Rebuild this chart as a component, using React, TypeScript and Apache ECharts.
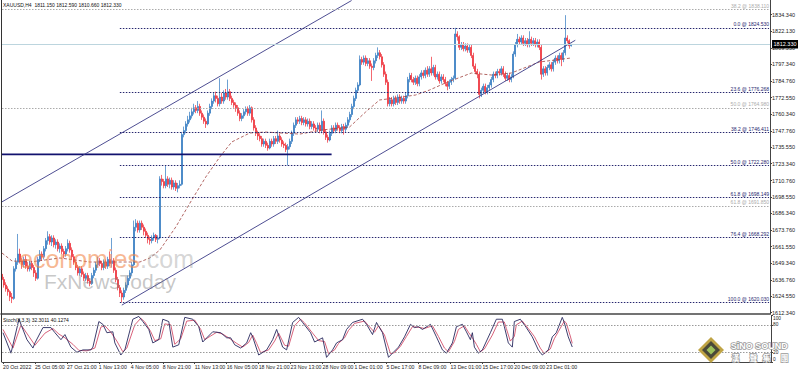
import React, { useEffect, useRef } from 'react';
import * as echarts from 'echarts';

const symbolName = 'XAUUSD,H4';
// [open, close, low, high] per H4 bar
const bars: number[][] = [
  [1641,1637,1635,1643],[1637,1633,1631,1639],[1633,1630,1628,1635],[1630,1628,1625,1632],[1628,1624,1621,1629],
  [1624,1623,1619.5,1627],[1623,1645,1622,1647],[1645,1650,1643,1653],[1650,1656,1648,1671],[1656,1651,1649,1660],
  [1651,1648,1645,1653],[1648,1652,1646,1654],[1652,1647,1645,1655],[1647,1645,1643,1650],[1645,1649,1643,1651],
  [1649,1646,1644,1651],[1646,1642,1639,1648],[1642,1638,1636,1644],[1638,1652,1637,1654],[1652,1656,1650,1659],
  [1656,1654,1651,1658],[1654,1660,1652,1662],[1660,1666,1658,1668],[1666,1669,1663,1673],[1669,1665,1663,1671],
  [1665,1668,1662,1670],[1668,1663,1661,1670],[1663,1665,1660,1667],[1665,1660,1658,1667],[1660,1662,1657,1664],
  [1662,1658,1656,1664],[1658,1656,1653,1660],[1656,1660,1654,1662],[1660,1664,1658,1667],[1664,1659,1657,1666],
  [1659,1654,1652,1661],[1654,1650,1648,1656],[1650,1646,1644,1652],[1646,1642,1640,1648],[1642,1645,1640,1647],
  [1645,1641,1639,1647],[1641,1638,1636,1643],[1638,1640,1636,1642],[1640,1636,1634,1642],[1636,1634,1632,1638],
  [1634,1640,1633,1642],[1640,1644,1638,1646],[1644,1648,1642,1650],[1648,1651,1646,1654],[1651,1649,1647,1653],
  [1649,1646,1644,1651],[1646,1650,1644,1652],[1650,1647,1645,1652],[1647,1652,1645,1654],[1652,1649,1647,1658],
  [1649,1651,1646,1668],[1651,1644,1642,1653],[1644,1637,1635,1646],[1637,1631,1629,1639],[1631,1627,1624,1633],
  [1627,1624,1620.03,1629],[1624,1629,1622,1631],[1629,1633,1627,1635],[1633,1638,1631,1640],[1638,1642,1636,1644],
  [1642,1648,1640,1650],[1648,1676,1647,1681],[1676,1679,1673,1682],[1679,1674,1672,1681],[1674,1679,1672,1681],
  [1679,1676,1674,1681],[1676,1673,1670,1678],[1673,1670,1668,1675],[1670,1667,1664,1672],[1667,1666,1663,1669],
  [1666,1668,1664,1670],[1668,1670,1666,1672],[1670,1667,1665,1671],[1667,1668,1664,1670],[1668,1712,1667,1714],
  [1712,1710,1707,1715],[1710,1707,1705,1712],[1707,1712,1705,1722],[1712,1708,1706,1714],[1708,1711,1705,1713],
  [1711,1706,1704,1713],[1706,1709,1704,1711],[1709,1705,1703,1711],[1705,1707,1702,1709],[1707,1708,1705,1711],
  [1708,1745,1707,1747],[1745,1748,1743,1751],[1748,1753,1746,1755],[1753,1756,1751,1759],[1756,1759,1754,1762],
  [1759,1762,1757,1765],[1762,1765,1760,1768],[1765,1763,1761,1767],[1763,1766,1761,1770],[1766,1761,1759,1768],
  [1761,1758,1756,1763],[1758,1755,1753,1760],[1755,1753,1750,1757],[1753,1761,1752,1763],[1761,1766,1759,1768],
  [1766,1770,1764,1772],[1770,1774,1768,1776],[1774,1772,1769,1777],[1772,1768,1766,1774],[1768,1773,1766,1787],
  [1773,1770,1768,1776],[1770,1776,1768,1778],[1776,1773,1771,1779],[1773,1777,1771,1786],[1777,1772,1770,1779],
  [1772,1769,1767,1774],[1769,1767,1765,1771],[1767,1765,1762,1769],[1765,1761,1759,1767],[1761,1757,1755,1763],
  [1757,1759,1755,1761],[1759,1762,1757,1764],[1762,1764,1760,1766],[1764,1761,1759,1766],[1761,1765,1759,1767],
  [1765,1756,1754,1766],[1756,1750,1748,1758],[1750,1746,1744,1752],[1746,1744,1741,1748],[1744,1742,1740,1746],
  [1742,1738,1736,1744],[1738,1740,1736,1742],[1740,1737,1735,1742],[1737,1735,1733,1739],[1735,1740,1734,1742],
  [1740,1738,1736,1742],[1738,1742,1736,1744],[1742,1740,1738,1744],[1740,1744,1738,1748],[1744,1741,1739,1746],
  [1741,1738,1736,1743],[1738,1737,1735,1740],[1737,1734,1732,1739],[1734,1736,1722,1738],[1736,1740,1734,1742],
  [1740,1746,1738,1748],[1746,1752,1744,1754],[1752,1756,1750,1758],[1756,1755,1753,1758],[1755,1757,1753,1759],
  [1757,1754,1752,1759],[1754,1756,1752,1758],[1756,1753,1751,1758],[1753,1755,1751,1757],[1755,1751,1749,1757],
  [1751,1753,1749,1755],[1753,1750,1748,1755],[1750,1749,1747,1752],[1749,1752,1747,1754],[1752,1748,1746,1754],
  [1748,1755,1746,1763],[1755,1747,1745,1757],[1747,1743,1741,1749],[1743,1741,1739,1745],[1741,1746,1740,1748],
  [1746,1750,1744,1752],[1750,1748,1746,1752],[1748,1752,1746,1754],[1752,1750,1748,1754],[1750,1748,1746,1752],
  [1748,1751,1746,1753],[1751,1749,1745,1753],[1749,1752,1747,1754],[1752,1756,1750,1758],[1756,1760,1754,1762],
  [1760,1766,1758,1768],[1766,1772,1764,1774],[1772,1778,1770,1780],[1778,1782,1776,1784],[1782,1801,1781,1804],
  [1801,1799,1797,1803],[1799,1802,1797,1804],[1802,1798,1796,1804],[1798,1800,1796,1802],[1800,1796,1794,1802],
  [1796,1795,1785,1798],[1795,1800,1793,1802],[1800,1804,1798,1806],[1804,1806,1802,1810],[1806,1803,1801,1808],
  [1803,1797,1795,1805],[1797,1790,1788,1799],[1790,1784,1782,1792],[1784,1768,1766,1786],[1768,1771,1766,1773],
  [1771,1768,1766,1773],[1768,1772,1766,1774],[1772,1769,1767,1774],[1769,1773,1767,1775],[1773,1770,1768,1775],
  [1770,1772,1768,1774],[1772,1770,1768,1774],[1770,1774,1768,1776],[1774,1786,1772,1788],[1786,1789,1784,1791],
  [1789,1786,1784,1791],[1786,1784,1782,1788],[1784,1787,1782,1789],[1787,1783,1781,1789],[1783,1788,1781,1790],
  [1788,1791,1786,1793],[1791,1789,1787,1793],[1789,1793,1787,1795],[1793,1790,1788,1796],[1790,1794,1788,1796],
  [1794,1791,1789,1803],[1791,1795,1789,1797],[1795,1788,1786,1797],[1788,1790,1786,1792],[1790,1785,1783,1792],
  [1785,1788,1783,1790],[1788,1786,1784,1790],[1786,1783,1781,1788],[1783,1781,1778,1785],[1781,1784,1779,1786],
  [1784,1786,1782,1788],[1786,1787,1784,1789],[1787,1820,1786,1824.53],[1820,1818,1815,1822],[1818,1810,1808,1819],
  [1810,1812,1808,1814],[1812,1809,1807,1814],[1809,1811,1807,1813],[1811,1808,1806,1813],[1808,1810,1806,1812],
  [1810,1804,1802,1812],[1804,1796,1794,1806],[1796,1792,1790,1798],[1792,1790,1787,1794],[1790,1775,1772,1792],
  [1775,1778,1773,1780],[1778,1781,1776,1783],[1781,1777,1775,1783],[1777,1780,1775,1782],[1780,1782,1778,1784],
  [1782,1786,1780,1788],[1786,1790,1784,1792],[1790,1789,1787,1792],[1789,1792,1787,1794],[1792,1791,1789,1794],
  [1791,1794,1789,1796],[1794,1790,1788,1796],[1790,1787,1785,1792],[1787,1789,1785,1791],[1789,1786,1784,1791],
  [1786,1788,1784,1790],[1788,1805,1787,1807],[1805,1812,1803,1814],[1812,1816,1810,1820],[1816,1814,1812,1818],
  [1814,1817,1812,1819],[1817,1813,1811,1819],[1813,1815,1811,1817],[1815,1812,1810,1817],[1812,1816,1810,1822],
  [1816,1813,1811,1818],[1813,1815,1811,1817],[1815,1812,1810,1817],[1812,1814,1810,1816],[1814,1810,1808,1816],
  [1810,1790,1786,1812],[1790,1794,1788,1796],[1794,1791,1789,1796],[1791,1795,1789,1797],[1795,1797,1793,1799],
  [1797,1794,1792,1799],[1794,1799,1792,1801],[1799,1802,1797,1804],[1802,1800,1798,1804],[1800,1804,1798,1806],
  [1804,1801,1796,1806],[1801,1806,1799,1808],[1806,1817,1804,1834],[1817,1815,1813,1819],[1815,1811.15,1809,1816],
  [1811.15,1812.33,1810.66,1812.59],
];

const priceTicks = [1612.34,1624.55,1636.76,1649.34,1661.55,1673.76,1686.34,1698.55,1710.76,1723.34,1735.55,1747.76,1760.34,1772.55,1784.76,1797.34,1809.55,1822.13,1834.34];
const timeLabels = ['20 Oct 2022','25 Oct 05:00','27 Oct 21:00','1 Nov 13:00','4 Nov 05:00','8 Nov 21:00','11 Nov 13:00','16 Nov 05:00','18 Nov 21:00','23 Nov 13:00','28 Nov 09:00','1 Dec 01:00','5 Dec 17:00','8 Dec 09:00','13 Dec 01:00','15 Dec 17:00','20 Dec 09:00','23 Dec 01:00'];
const labelStep = 16;
const totalSlots = 385;

const fibPcts = ['0.0','23.6','38.2','50.0','61.8','76.4','100.0'];
const fibPrices = [1824.53,1776.268,1746.411,1722.28,1698.149,1668.292,1620.03];
const fibStart = 59;
const grayFibPcts = ['38.2','50.0','61.8'];
const grayFibPrices = [1838.11,1764.98,1691.85];

const levelLine: [number, number][] = [[0,1730.3],[165,1730.3]];
const channelUpper: [number, number][] = [[0,1694.9],[175,1844.9]];
const channelLower: [number, number][] = [[60,1618.0],[287,1815.3]];

const maPoints: [number, number][] = [
  [0,1656.8],[5,1650.9],[14,1650.1],[29,1653.1],[44,1650.1],[59,1650.1],[69,1650.1],[74,1653.1],[79,1659.0],
  [87,1676.2],[95,1696.3],[102,1713.4],[109,1728.3],[115,1739.5],[124,1746.2],[132,1746.9],[149,1745.4],
  [160,1748.4],[174,1750.7],[182,1761.8],[189,1770.8],[197,1772.3],[207,1774.5],[214,1778.2],[222,1783.5],
  [235,1790.9],[245,1789.4],[255,1790.9],[269,1799.1],[285,1802.1],
];

const stochMain: [number, number][] = [
  [0,63],[4,19],[8,92],[12,48],[15,30],[16,41],[20,74],[24,74],[26,63],[29,48],[31,59],[34,32],[37,21],[40,26],
  [44,26],[45,32],[48,87],[50,81],[52,63],[55,65],[56,41],[59,15],[61,26],[65,92],[68,98],[70,87],[73,70],[75,41],
  [78,48],[80,92],[83,87],[85,32],[88,37],[91,96],[95,92],[98,76],[100,43],[102,52],[105,65],[109,63],[112,52],
  [114,52],[116,37],[119,30],[122,41],[124,63],[125,54],[128,15],[132,26],[135,48],[137,70],[140,32],[142,26],
  [145,85],[148,96],[150,85],[154,63],[156,43],[160,52],[162,10],[165,26],[167,41],[170,48],[172,70],[175,85],
  [180,92],[182,81],[185,59],[187,85],[190,63],[193,10],[195,19],[198,32],[201,54],[204,81],[206,74],[208,76],
  [210,70],[214,81],[217,54],[220,26],[222,19],[225,41],[227,76],[230,81],[232,65],[234,48],[235,63],[236,32],
  [238,19],[240,26],[244,63],[247,92],[250,92],[251,76],[253,41],[255,32],[256,87],[259,92],[262,74],[265,54],
  [268,26],[270,15],[273,26],[275,54],[277,63],[280,96],[281,85],[283,54],[285,32.3011],
];
const stochSignal: [number, number][] = [
  [0,70],[5,30],[9,80],[13,55],[16,36],[21,62],[25,72],[28,60],[31,52],[35,38],[38,25],[42,24],[46,30],[49,75],
  [51,78],[54,64],[57,45],[60,22],[62,30],[66,80],[69,94],[71,86],[74,65],[76,46],[79,50],[81,82],[84,80],[86,38],
  [89,50],[92,88],[96,90],[99,70],[101,48],[104,56],[107,64],[110,60],[113,52],[117,40],[120,32],[123,42],[125,58],
  [127,40],[129,20],[133,26],[136,45],[138,62],[141,36],[143,34],[146,78],[149,92],[151,84],[155,62],[158,46],
  [161,44],[163,18],[166,26],[168,40],[171,52],[173,68],[176,83],[181,88],[183,78],[186,64],[188,78],[191,58],
  [194,18],[196,20],[199,34],[202,55],[205,76],[207,75],[209,74],[211,72],[215,78],[218,55],[221,30],[223,22],
  [226,44],[228,70],[231,78],[233,64],[235,52],[237,38],[239,22],[241,28],[245,58],[248,86],[251,86],[252,72],
  [254,45],[256,55],[257,80],[260,88],[263,72],[266,55],[269,30],[271,18],[274,28],[276,50],[278,65],[281,88],
  [282,84],[284,56],[285,40.1274],
];
const stochParams = '8,3,3';
const stochLevels = [80, 20];
const stochTicks = [0, 20, 80, 100];

const logoName = 'SiNO SOUND';
const logoChars = ['漢', '聲', '集', '團'];

const BULL = '#2f78c0';
const BEAR = '#ee2a34';
const NAVY = '#26266e';
const FONT = 'Liberation Sans, Arial, sans-serif';

function buildOption() {
  const cats = Array.from({ length: totalSlots }, (_, i) => String(i));
  const showLabel = (i: number) => i % labelStep === 0 && i / labelStep < timeLabels.length;
  const last = bars[bars.length - 1];
  const lastClose = last[1];
  const header = `${symbolName}  ${last[0].toFixed(3)} ${last[3].toFixed(3)} ${last[2].toFixed(3)} ${last[1].toFixed(3)}`;
  const stochText = `Stoch(${stochParams}) ${stochMain[stochMain.length - 1][1].toFixed(4)} ${stochSignal[stochSignal.length - 1][1].toFixed(4)}`;

  const fibLine = (pct: string, price: number, start: number, color: string) => [
    {
      coord: [start, price],
      lineStyle: { color, type: [1.5, 1.5], width: 1 },
      label: { show: true, position: 'insideEndTop', formatter: `${pct} @ ${price.toFixed(3)}`, color, fontSize: 5, distance: [0, 1], fontFamily: FONT },
    },
    { coord: [totalSlots - 1, price] },
  ];

  const markData: any[] = [
    {
      yAxis: lastClose,
      lineStyle: { color: '#bcd5de', type: 'solid', width: 1 },
      label: {
        show: true, position: 'end', formatter: lastClose.toFixed(3), backgroundColor: '#000', color: '#fff',
        fontSize: 5.5, padding: [1.5, 1.5, 1, 1.5], distance: 2, fontFamily: FONT,
      },
    },
  ];
  fibPcts.forEach((p, i) => markData.push(fibLine(p, fibPrices[i], fibStart, NAVY)));
  grayFibPcts.forEach((p, i) => markData.push(fibLine(p, grayFibPrices[i], 0, '#ababab')));

  const charX = [731, 749, 762, 780];
  const logoCharEls = logoChars.map((ch, i) => ({
    type: 'text', left: charX[i], top: 353, z: 60,
    style: { text: ch, fontSize: 7.5, fontWeight: 'bold', fill: '#ffffff', stroke: '#9a9a9a', lineWidth: 1.5, fontFamily: 'Noto Sans CJK TC, sans-serif' },
  }));

  return {
    animation: false,
    backgroundColor: '#ffffff',
    textStyle: { fontFamily: FONT },
    grid: [
      { left: 1, top: 0, width: 770, height: 314 },
      { left: 1, top: 315.5, width: 770, height: 46.5 },
    ],
    xAxis: [
      {
        type: 'category', gridIndex: 0, data: cats, boundaryGap: true,
        axisLine: { show: true, lineStyle: { color: '#444', width: 1.5 } },
        axisTick: { show: false }, axisLabel: { show: false }, splitLine: { show: false },
      },
      {
        type: 'category', gridIndex: 1, data: cats, boundaryGap: true,
        axisLine: { show: true, lineStyle: { color: '#444', width: 1 } },
        axisTick: { show: true, interval: (i: number) => showLabel(i), alignWithLabel: true, length: 2, lineStyle: { color: '#444' } },
        axisLabel: {
          interval: (i: number) => showLabel(i),
          formatter: (v: string) => timeLabels[Math.round(+v / labelStep)] ?? '',
          align: 'left', fontSize: 5.2, color: '#222', margin: 2,
        },
        splitLine: { show: false },
      },
    ],
    yAxis: [
      {
        type: 'value', gridIndex: 0, position: 'right', min: 1611.37, max: 1845.29,
        splitLine: { show: false },
        axisLine: { show: true, lineStyle: { color: '#444' } },
        axisTick: { show: true, length: 2, customValues: priceTicks, lineStyle: { color: '#444' } },
        axisLabel: { customValues: priceTicks, formatter: (v: number) => v.toFixed(3), fontSize: 5.5, color: '#222', margin: 2 },
      },
      {
        type: 'value', gridIndex: 1, position: 'right', min: 0, max: 100,
        splitLine: { show: false },
        axisLine: { show: true, lineStyle: { color: '#444' } },
        axisTick: { show: true, length: 2, customValues: stochTicks, lineStyle: { color: '#444' } },
        axisLabel: {
          customValues: stochTicks, fontSize: 4.8, lineHeight: 5, color: '#222', margin: 2,
          formatter: (v: number) => (v === 100 ? '{t|100}' : v === 0 ? '{b|0}' : String(v)),
          rich: {
            t: { fontSize: 4.8, lineHeight: 5, padding: [5, 0, 0, 0] },
            b: { fontSize: 4.8, lineHeight: 5, padding: [0, 0, 6, 0] },
          },
        },
      },
    ],
    series: [
      {
        type: 'candlestick', xAxisIndex: 0, yAxisIndex: 0, data: bars, barWidth: 1.5,
        itemStyle: { color: BULL, color0: BEAR, borderColor: BULL, borderColor0: BEAR, borderWidth: 0.7 },
        markLine: { silent: true, symbol: ['none', 'none'], data: markData },
        z: 3,
      },
      {
        type: 'line', xAxisIndex: 0, yAxisIndex: 0, data: maPoints, symbol: 'none',
        lineStyle: { color: '#a0403c', width: 0.8, type: [3, 2] }, z: 4,
      },
      {
        type: 'line', xAxisIndex: 0, yAxisIndex: 0, data: levelLine, symbol: 'none',
        lineStyle: { color: '#12126e', width: 1.8 }, z: 4,
      },
      {
        type: 'line', xAxisIndex: 0, yAxisIndex: 0, data: channelUpper, symbol: 'none',
        lineStyle: { color: '#3a3a86', width: 0.9 }, z: 4,
      },
      {
        type: 'line', xAxisIndex: 0, yAxisIndex: 0, data: channelLower, symbol: 'none',
        lineStyle: { color: '#3a3a86', width: 0.9 }, z: 4,
      },
      {
        type: 'line', xAxisIndex: 1, yAxisIndex: 1, data: stochSignal, symbol: 'none',
        lineStyle: { color: '#d4506c', width: 0.9 },
      },
      {
        type: 'line', xAxisIndex: 1, yAxisIndex: 1, data: stochMain, symbol: 'none',
        lineStyle: { color: '#28285e', width: 0.9 },
        markLine: {
          silent: true, symbol: ['none', 'none'], label: { show: false },
          lineStyle: { color: '#9a9a9a', type: [1.5, 1.5], width: 1 },
          data: stochLevels.map((v) => ({ yAxis: v })),
        },
      },
    ],
    graphic: [
      { type: 'line', shape: { x1: 1.5, y1: 0, x2: 1.5, y2: 362 }, style: { stroke: '#333', lineWidth: 1 }, z: 100 },
      { type: 'text', left: 3, top: 2, style: { text: header, fontSize: 5, fill: '#111', fontFamily: FONT }, z: 100 },
      { type: 'text', left: 3, top: 317, style: { text: stochText, fontSize: 5, fill: '#111', fontFamily: FONT }, z: 100 },
      {
        type: 'text', left: 19, top: 246, z: 50,
        style: {
          text: '{a|economies}{b|.com}', fontFamily: FONT,
          rich: {
            a: { fontSize: 25, fill: 'rgba(242,136,76,0.6)', fontFamily: FONT },
            b: { fontSize: 25, fill: 'rgba(150,150,150,0.4)', fontFamily: FONT },
          },
        },
      },
      { type: 'text', left: 44, top: 271, z: 50, style: { text: 'FxNewsToday', fontSize: 21, fill: 'rgba(130,130,130,0.45)', fontFamily: FONT } },
      { type: 'polygon', z: 60, shape: { points: [[711, 337], [724, 350], [711, 363], [698, 350]] }, style: { fill: '#bfa445' } },
      { type: 'polygon', z: 61, shape: { points: [[711, 341], [720, 350], [711, 359], [702, 350]] }, style: { fill: '#4a4938' } },
      { type: 'polygon', z: 62, shape: { points: [[711, 345.5], [715.5, 350], [711, 354.5], [706.5, 350]] }, style: { fill: '#9cc25a' } },
      {
        type: 'text', left: 730, top: 341, z: 60,
        style: { text: logoName, fontSize: 9, fontWeight: 'bold', fill: '#ffffff', stroke: '#9a9a9a', lineWidth: 1.5, fontFamily: FONT },
      },
      ...logoCharEls,
    ],
  };
}

export default function App() {
  const ref = useRef<HTMLDivElement>(null);
  useEffect(() => {
    if (!ref.current) return;
    const chart = echarts.init(ref.current, null, { renderer: 'svg' });
    chart.setOption(buildOption() as any);
    return () => chart.dispose();
  }, []);
  return <div ref={ref} style={{ position: 'fixed', left: 0, top: 0, width: 798, height: 372, background: '#fff' }} />;
}
